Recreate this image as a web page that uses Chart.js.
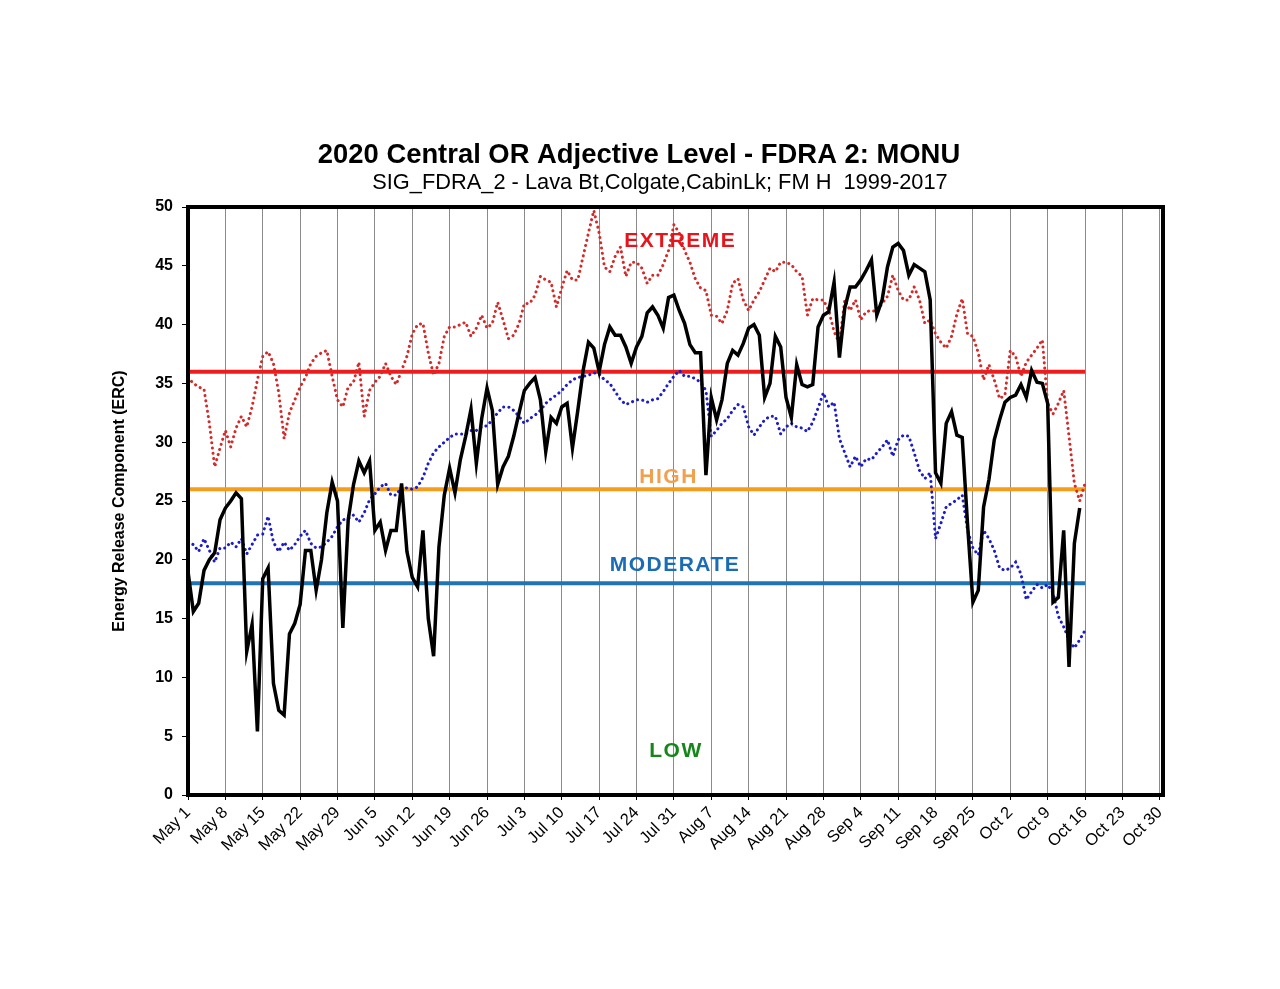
<!DOCTYPE html>
<html>
<head>
<meta charset="utf-8">
<title>2020 Central OR Adjective Level - FDRA 2: MONU</title>
<script src="https://cdn.jsdelivr.net/npm/chart.js@4.4.1/dist/chart.umd.min.js"></script>
<style>
    html, body { margin: 0; padding: 0; background: #fff; }
    #wrap { width: 1280px; height: 989px; }
</style>
</head>
<body>
<div id="wrap"><canvas id="ercChart" width="1280" height="989"></canvas></div>
<script>
// weekly tick labels, one every 7 days starting May 1
let tickLabels = ["May 1", "May 8", "May 15", "May 22", "May 29", "Jun 5", "Jun 12", "Jun 19",
    "Jun 26", "Jul 3", "Jul 10", "Jul 17", "Jul 24", "Jul 31", "Aug 7", "Aug 14", "Aug 21",
    "Aug 28", "Sep 4", "Sep 11", "Sep 18", "Sep 25", "Oct 2", "Oct 9", "Oct 16", "Oct 23", "Oct 30"];

// 2020 daily ERC, May 1 .. Oct 15
let erc2020 = [19.0, 15.6, 16.3, 19.1, 20.0, 20.6, 23.4, 24.4, 25.0, 25.7,
    25.2, 12.2, 14.5, 5.4, 18.4, 19.3, 9.5, 7.2, 6.8, 13.7,
    14.6, 16.2, 20.8, 20.8, 17.4, 20.0, 24.0, 26.6, 25.0, 14.2,
    23.4, 26.4, 28.4, 27.4, 28.4, 22.5, 23.2, 20.8, 22.5, 22.5,
    26.5, 20.7, 18.5, 17.7, 22.5, 15.0, 11.8, 21.1, 25.5, 27.8,
    25.7, 28.5, 30.5, 32.8, 28.2, 32.0, 34.6, 32.7, 26.4, 27.9,
    28.8, 30.5, 32.5, 34.4, 35.0, 35.5, 33.6, 29.2, 32.1, 31.6,
    33.0, 33.3, 29.5, 32.7, 36.1, 38.5, 38.0, 36.0, 38.3, 39.8,
    39.1, 39.1, 38.1, 36.7, 38.1, 39.0, 41.0, 41.5, 40.8, 39.7,
    42.3, 42.5, 41.2, 40.1, 38.3, 37.6, 37.6, 27.2, 33.8, 31.9,
    33.6, 36.7, 37.8, 37.4, 38.4, 39.7, 40.0, 39.1, 33.8, 35.0,
    39.0, 38.1, 33.8, 32.1, 36.6, 34.9, 34.7, 34.9, 39.8, 40.8,
    41.1, 43.6, 37.2, 41.4, 43.2, 43.2, 43.8, 44.6, 45.5, 40.8,
    42.1, 44.9, 46.6, 46.9, 46.3, 44.2, 45.1, 44.8, 44.5, 42.1,
    27.4, 26.5, 31.6, 32.6, 30.6, 30.4, 23.0, 16.4, 17.4, 24.5,
    26.8, 30.2, 31.9, 33.4, 33.8, 34.0, 34.9, 33.8, 36.1, 35.1,
    35.0, 33.3, 16.4, 16.8, 22.5, 10.9, 21.4, 24.4];

// 1999-2017 maximum, May 1 .. Oct 17
let ercMax = [35.5, 35.0, 34.7, 34.5, 31.6, 27.9, 29.5, 31.0, 29.6, 31.2,
    32.2, 31.3, 33.0, 35.3, 37.3, 37.7, 36.7, 34.2, 30.3, 32.5,
    33.6, 34.7, 35.5, 36.7, 37.3, 37.6, 37.8, 35.6, 33.6, 33.0,
    34.7, 35.1, 36.8, 32.2, 34.4, 35.1, 35.6, 36.7, 35.6, 34.9,
    36.1, 37.3, 39.2, 40.0, 40.1, 37.6, 35.7, 36.7, 39.0, 39.8,
    39.8, 40.0, 40.2, 39.0, 39.7, 40.8, 39.7, 40.1, 41.9, 40.4,
    38.8, 39.1, 40.1, 41.8, 41.8, 42.5, 44.1, 43.8, 43.6, 41.5,
    43.1, 44.6, 43.8, 43.8, 45.8, 47.8, 49.7, 47.8, 44.9, 44.5,
    45.8, 46.6, 44.1, 45.3, 45.3, 44.8, 43.5, 44.2, 44.2, 45.1,
    46.3, 48.5, 47.8, 46.3, 45.3, 43.9, 43.1, 42.9, 40.8, 40.7,
    40.1, 41.2, 43.5, 43.9, 42.1, 41.2, 42.1, 42.8, 43.8, 44.8,
    44.5, 45.3, 45.3, 45.1, 44.5, 44.1, 40.8, 42.2, 42.1, 42.1,
    41.2, 39.4, 38.4, 42.1, 41.2, 42.1, 40.4, 41.1, 41.2, 41.1,
    41.8, 42.4, 44.2, 42.9, 42.1, 42.1, 43.2, 42.1, 40.1, 40.4,
    39.2, 38.5, 38.0, 39.0, 40.9, 42.2, 39.2, 39.0, 37.6, 35.3,
    36.6, 35.3, 33.7, 34.0, 37.8, 37.3, 35.6, 36.8, 37.4, 38.0,
    38.7, 33.3, 32.4, 33.3, 34.4, 30.5, 26.5, 25.0, 26.5];

// 1999-2017 average, May 1 .. Oct 17
let ercAvg = [21.5, 21.3, 20.7, 21.8, 20.8, 19.8, 21.0, 21.0, 21.5, 21.1,
    21.8, 20.5, 21.3, 22.1, 22.2, 23.7, 21.5, 20.7, 21.5, 20.8,
    21.3, 22.0, 22.5, 21.4, 21.0, 21.1, 21.5, 22.0, 22.8, 23.4,
    23.5, 23.8, 23.2, 24.0, 25.1, 25.6, 26.2, 26.5, 25.5, 25.5,
    26.2, 26.1, 26.0, 26.2, 27.0, 28.2, 29.1, 29.6, 30.0, 30.4,
    30.7, 30.7, 30.7, 31.0, 31.0, 31.3, 31.4, 31.9, 32.5, 33.0,
    33.0, 32.7, 32.2, 31.6, 32.0, 32.3, 32.7, 33.3, 33.7, 34.0,
    34.4, 34.9, 35.3, 35.5, 35.6, 35.7, 35.9, 35.8, 35.3, 35.0,
    34.3, 33.6, 33.2, 33.4, 33.6, 33.6, 33.4, 33.6, 33.7, 34.3,
    35.0, 35.6, 36.1, 35.6, 35.6, 35.4, 35.1, 34.4, 30.5, 31.0,
    31.6, 32.0, 32.7, 33.2, 33.0, 31.3, 30.6, 31.3, 31.9, 32.2,
    32.2, 30.7, 31.3, 31.6, 31.3, 31.2, 30.9, 31.7, 32.9, 34.2,
    33.0, 33.4, 30.3, 29.1, 27.9, 28.8, 27.9, 28.6, 28.5, 29.1,
    29.6, 30.2, 28.8, 30.2, 30.6, 30.5, 29.1, 27.6, 26.9, 27.4,
    21.8, 23.1, 24.5, 24.8, 25.1, 25.5, 22.5, 21.0, 20.4, 22.5,
    21.8, 20.8, 19.3, 19.1, 19.3, 19.8, 18.8, 16.6, 17.3, 17.9,
    17.6, 17.9, 17.2, 15.2, 14.3, 13.2, 12.5, 13.2, 14.0];

// adjective class breakpoints, drawn May 1 .. Oct 16
let levelNames = ["EXTREME", "HIGH", "MODERATE", "LOW"];
let levelBreaks = [36, 26, 18];
let levelEndDay = 168;

let lineColors = ["#ee1c1c", "#f59c1a", "#1f74b6"];
let labelColors = ["#e8141c", "#f2a050", "#1a6db5", "#16861a"];

function toPoints(values) {
    return values.map((v, i) => ({x: i, y: v}));
}

function levelLine(value, idx) {
    return {
        label: levelNames[idx],
        data: [{x: 0, y: value}, {x: levelEndDay, y: value}],
        borderColor: lineColors[idx],
        borderWidth: 4,
        pointRadius: 0,
        order: 3
    };
}

// plugin: titles, level names and the heavy frame
let decorPlugin = {
    id: 'decor',
    afterDraw(chart) {
        let ctx = chart.ctx;
        let area = chart.chartArea;
        let xs = chart.scales.x;
        let ys = chart.scales.y;

        ctx.save();
        ctx.strokeStyle = "#000";
        ctx.lineWidth = 4;
        ctx.strokeRect(area.left, area.top, area.right - area.left, area.bottom - area.top);

        ctx.fillStyle = "#000";
        ctx.textAlign = "center";
        ctx.textBaseline = "alphabetic";
        ctx.font = "bold 27.4px 'Liberation Sans', Arial, sans-serif";
        ctx.fillText("2020 Central OR Adjective Level - FDRA 2: MONU", 639, 163);
        ctx.font = "21.8px 'Liberation Sans', Arial, sans-serif";
        ctx.fillText("SIG_FDRA_2 - Lava Bt,Colgate,CabinLk; FM H  1999-2017", 660, 189);

        // level names sit near Jul 31
        let labelPos = [[92.2, 47.1], [90.0, 27.0], [91.2, 19.5], [91.4, 3.7]];
        ctx.font = "bold 21px 'Liberation Sans', Arial, sans-serif";
        ctx.letterSpacing = "1.5px";
        ctx.textBaseline = "middle";
        levelNames.forEach((name, i) => {
            ctx.fillStyle = labelColors[i];
            ctx.fillText(name, xs.getPixelForValue(labelPos[i][0]), ys.getPixelForValue(labelPos[i][1]));
        });
        ctx.restore();
    }
};

let ctx = document.getElementById("ercChart").getContext("2d");
let chart = new Chart(ctx, {
    type: 'line',
    data: {
        datasets: [
            {
                label: "2020",
                data: toPoints(erc2020),
                borderColor: "#000",
                borderWidth: 3.5,
                pointRadius: 0,
                order: 0
            },
            {
                label: "Max",
                data: toPoints(ercMax),
                borderColor: "#d42a2a",
                borderWidth: 3,
                borderDash: [0.1, 5.2],
                borderCapStyle: "round",
                pointRadius: 0,
                order: 1
            },
            {
                label: "Avg",
                data: toPoints(ercAvg),
                borderColor: "#1c1cc8",
                borderWidth: 3,
                borderDash: [0.1, 5.2],
                borderCapStyle: "round",
                pointRadius: 0,
                order: 2
            },
            levelLine(levelBreaks[0], 0),
            levelLine(levelBreaks[1], 1),
            levelLine(levelBreaks[2], 2)
        ]
    },
    options: {
        responsive: false,
        animation: false,
        devicePixelRatio: 1,
        layout: {
            padding: {left: 100, right: 117, top: 207, bottom: 100}
        },
        elements: {
            line: { tension: 0 }
        },
        plugins: {
            legend: { display: false },
            tooltip: { enabled: false }
        },
        scales: {
            x: {
                type: 'linear',
                min: 0,
                max: 182.6,
                afterBuildTicks: function(scale) {
                    scale.ticks = tickLabels.map((t, i) => ({value: i * 7}));
                },
                afterFit: function(scale) {
                    scale.height = 94;
                },
                ticks: {
                    autoSkip: false,
                    minRotation: 45,
                    maxRotation: 45,
                    padding: 3,
                    color: "#000",
                    font: { family: "'Liberation Sans', Arial, sans-serif", size: 16.5 },
                    callback: function(value) {
                        return tickLabels[Math.round(value / 7)];
                    }
                },
                grid: {
                    color: "#8a8a8a",
                    lineWidth: 1,
                    tickColor: "#000",
                    tickLength: 5
                },
                border: { display: false }
            },
            y: {
                min: 0,
                max: 50,
                afterFit: function(scale) {
                    scale.width = 88;
                },
                ticks: {
                    stepSize: 5,
                    padding: 9,
                    color: "#000",
                    font: { family: "'Liberation Sans', Arial, sans-serif", size: 16, weight: "bold" }
                },
                grid: {
                    drawOnChartArea: false,
                    color: "#000",
                    tickLength: 6
                },
                border: { display: false },
                title: {
                    display: true,
                    text: "Energy Release Component (ERC)",
                    color: "#000",
                    padding: {top: 10, bottom: 0},
                    font: { family: "'Liberation Sans', Arial, sans-serif", size: 16, weight: "bold" }
                }
            }
        }
    },
    plugins: [decorPlugin]
});
</script>
</body>
</html>
